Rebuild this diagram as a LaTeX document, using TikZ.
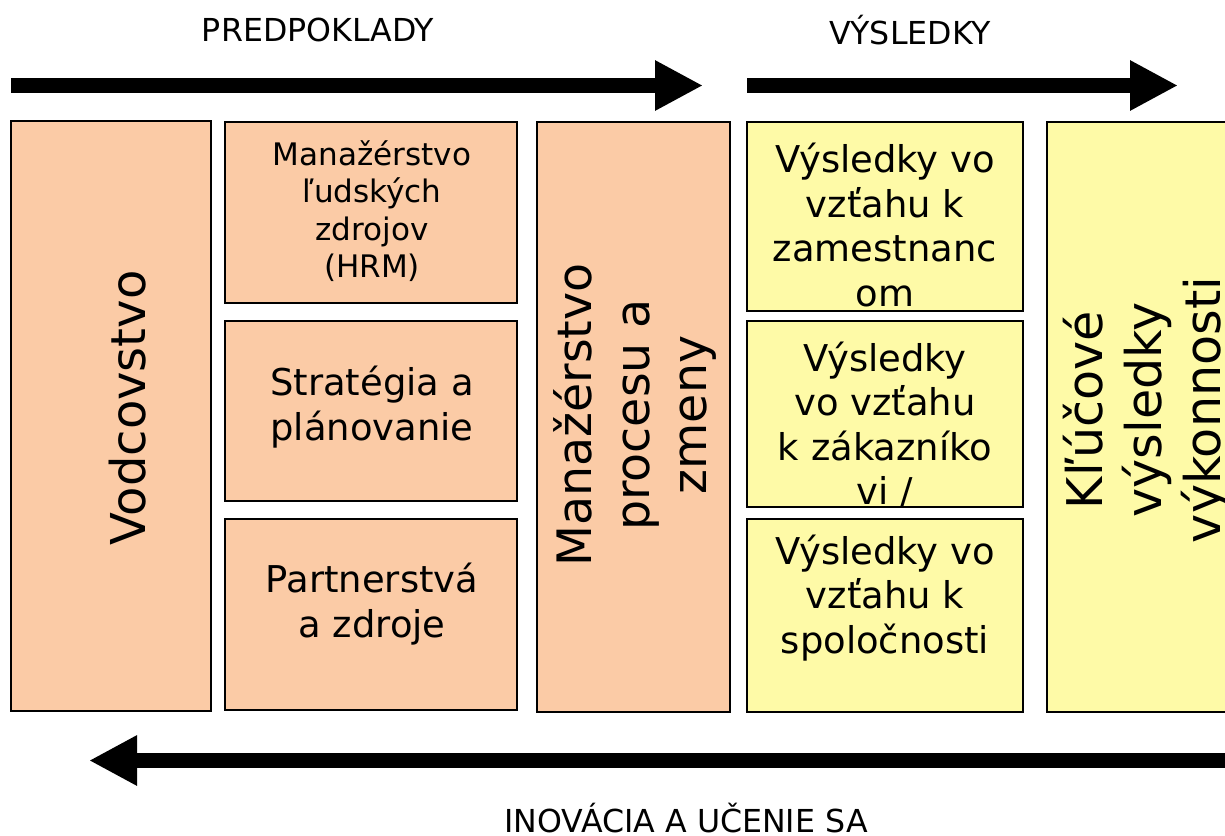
\documentclass[tikz,border=0pt]{standalone}
\usepackage{fontspec}
\setmainfont{DejaVu Sans}
\usetikzlibrary{arrows.meta}

\definecolor{peachfill}{RGB}{251,203,166}
\definecolor{lemonfill}{RGB}{254,250,167}

\tikzset{
 peach/.style={draw=black, line width=1.2pt, fill=peachfill, inner sep=0pt},
 lemon/.style={draw=black, line width=1.2pt, fill=lemonfill, inner sep=0pt},
 head/.style={inner sep=0pt, font=\fontsize{27}{32}\selectfont},
 small/.style={inner sep=0pt, align=center, font=\fontsize{26.5}{32}\selectfont},
 mid/.style={inner sep=0pt, align=center, font=\fontsize{31.5}{38}\selectfont},
 big/.style={inner sep=0pt, align=center, rotate=90, font=\fontsize{40.5}{48.7}\selectfont},
 band/.style={line width=0.45cm, -{Triangle[length=1.44cm, width=1.41cm]}}
}

\begin{document}
\begin{tikzpicture}[x=0.03cm, y=-0.03cm]
 \useasboundingbox (0,0) rectangle (1225,835);
 \clip (0,0) rectangle (1225,835);

 % boxes
 \node[peach, minimum width=6cm, minimum height=17.7cm] (lead) at (111,416) {};
 \node[peach, minimum width=8.76cm, minimum height=5.43cm] (hrm) at (371,212.5) {};
 \node[peach, minimum width=8.76cm, minimum height=5.4cm] (strat) at (371,411) {};
 \node[peach, minimum width=8.76cm, minimum height=5.73cm] (partner) at (371,614.5) {};
 \node[peach, minimum width=5.79cm, minimum height=17.7cm] (proc) at (633.5,417) {};

 \node[lemon, minimum width=8.28cm, minimum height=5.67cm] (emp) at (885,216.5) {};
 \node[lemon, minimum width=8.28cm, minimum height=5.58cm] (cust) at (885,414) {};
 \node[lemon, minimum width=8.28cm, minimum height=5.79cm] (soc) at (885,615.5) {};
 \node[lemon, minimum width=6.39cm, minimum height=17.7cm] (kpi) at (1153.5,417) {};

 % texts
 \node[big, font=\fontsize{41}{49}\selectfont] (leadtxt) at (128,408) {Vodcovstvo};
 \node[small] (hrmtxt) at (372,211) {Manažérstvo\\ľudských\\zdrojov\\(HRM)};
 \node[mid] (strattxt) at (372,407) {Stratégia a\\plánovanie};
 \node[mid] (partnertxt) at (372,604) {Partnerstvá\\ a zdroje};
 \node[big] (proctxt) at (635,415) {Manažérstvo\\procesu a\\zmeny};

 \node[mid] (emptxt) at (885,225) {Výsledky vo\\vzťahu k\\zamestnanc\\om};
 \node[mid] (custtxt) at (885,425) {Výsledky \\vo vzťahu\\k zákazníko\\vi /};
 \node[mid] (soctxt) at (885,598) {Výsledky vo\\vzťahu k\\spoločnosti};
 \node[big, font=\fontsize{42}{50}\selectfont] (kpitxt) at (1147,410) {Kľúčové\\výsledky\\výkonnosti};

 \node[head] (pre) at (318,30) {PREDPOKLADY};
 \node[head] (res) at (910,30) {VÝSLEDKY};
 \node[head] (learn) at (686,818) {INOVÁCIA A UČENIE SA};

 % arrows
 \coordinate (a1) at (11,85.5);
 \coordinate (a2) at (703,85.5);
 \coordinate (b1) at (747,85.5);
 \coordinate (b2) at (1178,85.5);
 \coordinate (c1) at (1250,760.5);
 \coordinate (c2) at (89,760.5);

 \draw[band] (a1) -- (a2);
 \draw[band] (b1) -- (b2);
 \draw[band] (c1) -- (c2);

\end{tikzpicture}
\end{document}
